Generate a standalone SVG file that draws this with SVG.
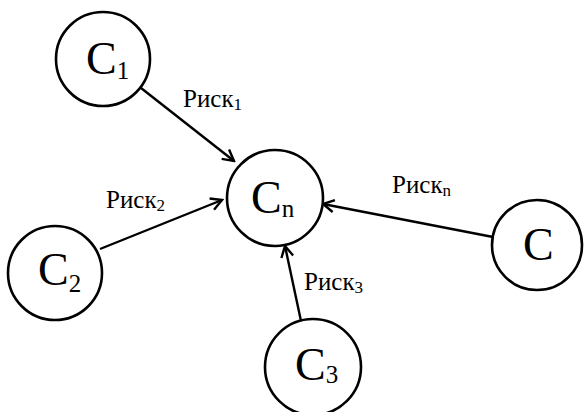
<svg xmlns="http://www.w3.org/2000/svg" width="584" height="412" viewBox="0 0 584 412">
<style>
.node circle{fill:#fff;stroke:#000;stroke-width:2.6}
.big{font-size:46px}
.sub{font-size:25px}
.lbl{font-size:25px}
.lsub{font-size:17px}
.edge{stroke:#000;stroke-width:2.4;fill:none;marker-end:url(#arr)}
</style>
<defs>
<marker id="arr" markerWidth="14" markerHeight="14" viewBox="0 0 14 14" refX="12" refY="7" orient="auto" markerUnits="userSpaceOnUse">
<path d="M1,1 L12,7 L1,13" fill="none" stroke="#000" stroke-width="2.4"/>
</marker>
</defs>
<g id="edges">
<line class="edge" x1="141" y1="88" x2="234" y2="161"/>
<line class="edge" x1="100" y1="249" x2="222" y2="200"/>
<line class="edge" x1="493" y1="237" x2="323" y2="204"/>
<line class="edge" x1="301" y1="321" x2="285" y2="246"/>
</g>
<g id="labels" font-family="Liberation Serif, Times New Roman, serif" fill="#000">
<text class="lbl" x="183" y="107">Риск<tspan class="lsub" dy="3">1</tspan></text>
<text class="lbl" x="106" y="208">Риск<tspan class="lsub" dy="3">2</tspan></text>
<text class="lbl" x="392" y="193">Риск<tspan class="lsub" dy="3">n</tspan></text>
<text class="lbl" x="304" y="290">Риск<tspan class="lsub" dy="3">3</tspan></text>
</g>
<g font-family="Liberation Serif, Times New Roman, serif" fill="#000">
<g id="C1" class="node"><circle cx="103" cy="59" r="47"/><text class="big" x="86" y="74">C<tspan class="sub" dy="5">1</tspan></text></g>
<g id="Cn" class="node"><circle cx="275" cy="198" r="48"/><text class="big" x="251" y="213">C<tspan class="sub" dy="4">n</tspan></text></g>
<g id="C2" class="node"><circle cx="55" cy="273" r="47"/><text class="big" x="38" y="285">C<tspan class="sub" dy="7">2</tspan></text></g>
<g id="C3" class="node"><circle cx="313" cy="367" r="48"/><text class="big" x="295" y="380">C<tspan class="sub" dy="3">3</tspan></text></g>
<g id="C" class="node"><circle cx="537" cy="245" r="45"/><text class="big" x="523" y="260">C</text></g>
</g>
</svg>
